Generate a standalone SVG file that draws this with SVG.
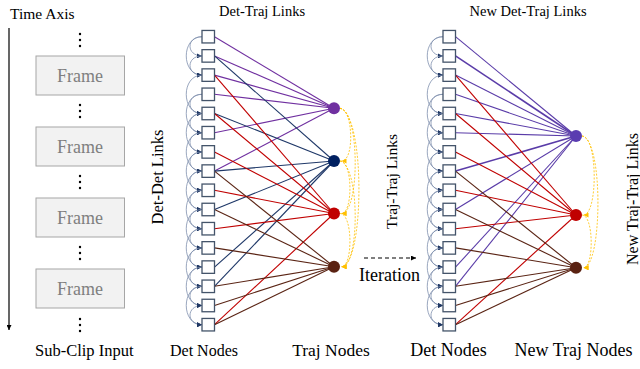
<svg xmlns="http://www.w3.org/2000/svg" xmlns:xlink="http://www.w3.org/1999/xlink" width="640" height="369" viewBox="0 0 640 369">
  <style>
    text { font-family: "Liberation Serif", "Times New Roman", serif; fill: #000; }
    .lbl { font-size: 16px; }
    .top { font-size: 14.5px; text-anchor: middle; }
    .mid { text-anchor: middle; }
    .frame rect { fill: #f2f2f2; stroke: #a6a6a6; stroke-width: 1; }
    .frame text { font-size: 18px; fill: #7f7f7f; text-anchor: middle; }
    .dot { fill: #000; }
    .det { fill: #fff; stroke: #44546a; stroke-width: 1.3; }
    .dd { fill: none; stroke: #7f8fad; stroke-width: 0.8; marker-end: url(#ddArrow); }
    .tt { fill: none; stroke: #ffc000; stroke-width: 0.8; stroke-dasharray: 2 1.5; marker-end: url(#ttArrow); }
    .e { stroke-width: 1.1; fill: none; }
    .pu { stroke: #7030a0; }
    .nv { stroke: #1f3868; }
    .rd { stroke: #c00000; }
    .br { stroke: #5a2414; }
    .pu2 { stroke: #5a3ca8; }
  </style>
  <defs>
    <marker id="ddArrow" viewBox="0 0 10 10" refX="10" refY="5" markerUnits="userSpaceOnUse" markerWidth="6" markerHeight="5" orient="auto">
      <path d="M0,0 L10,5 L0,10 z" fill="#203864"/>
    </marker>
    <marker id="ttArrow" viewBox="0 0 10 10" refX="10" refY="5" markerUnits="userSpaceOnUse" markerWidth="6" markerHeight="5" orient="auto">
      <path d="M0,0 L10,5 L0,10 z" fill="#ffc000"/>
    </marker>
    <marker id="axArrow" viewBox="0 0 10 10" refX="5" refY="10" markerUnits="userSpaceOnUse" markerWidth="5" markerHeight="7" orient="0">
      <path d="M0,0 L5,10 L10,0 z" fill="#000"/>
    </marker>
    <marker id="itArrow" viewBox="0 0 10 10" refX="10" refY="5" markerUnits="userSpaceOnUse" markerWidth="6" markerHeight="5" orient="auto">
      <path d="M0,0 L10,5 L0,10 z" fill="#000"/>
    </marker>
    <!-- det-det arcs: one step and two steps down -->
    <path id="a1" class="dd" d="M0,0 C-16,0 -16,19.2 0,19.2"/>
    <path id="a2" class="dd" d="M0,0 C-21,0 -21,38.4 0,38.4"/>
  </defs>

  <!-- time axis and frames -->
  <g id="time-axis">
    <text class="lbl" x="10" y="18.5" style="font-size:15.5px">Time Axis</text>
    <line x1="9" y1="28" x2="9" y2="330" stroke="#000" stroke-width="1.2" marker-end="url(#axArrow)"/>
  </g>
  <g id="dots">
    <circle class="dot" cx="80" cy="34" r="1.2"/><circle class="dot" cx="80" cy="40" r="1.2"/><circle class="dot" cx="80" cy="46" r="1.2"/>
    <circle class="dot" cx="80" cy="105" r="1.2"/><circle class="dot" cx="80" cy="111" r="1.2"/><circle class="dot" cx="80" cy="117" r="1.2"/>
    <circle class="dot" cx="80" cy="176" r="1.2"/><circle class="dot" cx="80" cy="182" r="1.2"/><circle class="dot" cx="80" cy="188" r="1.2"/>
    <circle class="dot" cx="80" cy="247" r="1.2"/><circle class="dot" cx="80" cy="253" r="1.2"/><circle class="dot" cx="80" cy="259" r="1.2"/>
    <circle class="dot" cx="80" cy="319" r="1.2"/><circle class="dot" cx="80" cy="325" r="1.2"/><circle class="dot" cx="80" cy="331" r="1.2"/>
  </g>
  <g id="frame1" class="frame"><rect x="36" y="56" width="88.5" height="39"/><text x="80" y="81.5">Frame</text></g>
  <g id="frame2" class="frame"><rect x="36" y="127" width="88.5" height="39"/><text x="80" y="152.5">Frame</text></g>
  <g id="frame3" class="frame"><rect x="36" y="198" width="88.5" height="39"/><text x="80" y="223.5">Frame</text></g>
  <g id="frame4" class="frame"><rect x="36" y="269" width="88.5" height="39"/><text x="80" y="294.5">Frame</text></g>
  <text class="lbl" x="35" y="355.5" style="font-size:16.5px">Sub-Clip Input</text>

  <!-- labels -->
  <text class="top" x="262" y="16">Det-Traj Links</text>
  <text class="top" x="528" y="16">New Det-Traj Links</text>
  <text class="lbl mid" transform="translate(162.5,177) rotate(-90)" style="font-size:16.5px">Det-Det Links</text>
  <text class="lbl mid" transform="translate(397,181.5) rotate(-90)" style="font-size:15.5px">Traj-Traj Links</text>
  <text class="lbl mid" transform="translate(638,199) rotate(-90)" style="font-size:16px">New Traj-Traj Links</text>
  <text class="lbl mid" x="204" y="355.5">Det Nodes</text>
  <text class="lbl mid" x="331" y="355.5" style="font-size:17.5px">Traj Nodes</text>
  <text class="lbl mid" x="448.5" y="355.5" style="font-size:18px">Det Nodes</text>
  <text class="lbl mid" x="573.5" y="355.5" style="font-size:18px">New Traj Nodes</text>

  <g id="iteration">
    <line x1="364" y1="258" x2="416" y2="258" stroke="#000" stroke-width="1.2" stroke-dasharray="4 3" marker-end="url(#itArrow)"/>
    <text class="lbl mid" x="389.5" y="281" style="font-size:18px">Iteration</text>
  </g>

  <!-- connectors -->
  <g id="connectors">
    <!-- left graph: det-det links -->
    <g id="left-det-det">
      <use xlink:href="#a1" x="202" y="36.7"/>
      <use xlink:href="#a1" x="202" y="55.9"/>
      <use xlink:href="#a1" x="202" y="94.3"/>
      <use xlink:href="#a1" x="202" y="113.5"/>
      <use xlink:href="#a1" x="202" y="132.7"/>
      <use xlink:href="#a1" x="202" y="151.9"/>
      <use xlink:href="#a1" x="202" y="171.1"/>
      <use xlink:href="#a1" x="202" y="190.3"/>
      <use xlink:href="#a1" x="202" y="209.5"/>
      <use xlink:href="#a1" x="202" y="228.7"/>
      <use xlink:href="#a1" x="202" y="247.9"/>
      <use xlink:href="#a1" x="202" y="267.1"/>
      <use xlink:href="#a1" x="202" y="286.3"/>
      <use xlink:href="#a1" x="202" y="305.5"/>
      <use xlink:href="#a2" x="202" y="36.7"/>
      <use xlink:href="#a2" x="202" y="75.1"/>
      <use xlink:href="#a2" x="202" y="94.3"/>
      <use xlink:href="#a2" x="202" y="113.5"/>
      <use xlink:href="#a2" x="202" y="132.7"/>
      <use xlink:href="#a2" x="202" y="151.9"/>
      <use xlink:href="#a2" x="202" y="171.1"/>
      <use xlink:href="#a2" x="202" y="190.3"/>
      <use xlink:href="#a2" x="202" y="209.5"/>
      <use xlink:href="#a2" x="202" y="228.7"/>
      <use xlink:href="#a2" x="202" y="247.9"/>
      <use xlink:href="#a2" x="202" y="267.1"/>
      <use xlink:href="#a2" x="202" y="286.3"/>
    </g>
    <!-- left graph: det-traj links -->
    <g id="left-det-traj">
      <path class="e pu" d="M214.5,36.7 L334,108.3"/>
      <path class="e pu" d="M214.5,55.9 L334,108.3"/>
      <path class="e pu" d="M214.5,75.1 L334,108.3"/>
      <path class="e pu" d="M214.5,94.3 L334,108.3"/>
      <path class="e pu" d="M214.5,132.7 L334,108.3"/>
      <path class="e pu" d="M214.5,171.1 L334,108.3"/>
      <path class="e nv" d="M214.5,55.9 L334,161"/>
      <path class="e nv" d="M214.5,113.5 L334,161"/>
      <path class="e nv" d="M214.5,171.1 L334,161"/>
      <path class="e nv" d="M214.5,209.5 L334,161"/>
      <path class="e nv" d="M214.5,267.1 L334,161"/>
      <path class="e nv" d="M214.5,286.3 L334,161"/>
      <path class="e rd" d="M214.5,75.1 L334,213.5"/>
      <path class="e rd" d="M214.5,113.5 L334,213.5"/>
      <path class="e rd" d="M214.5,151.9 L334,213.5"/>
      <path class="e rd" d="M214.5,190.3 L334,213.5"/>
      <path class="e rd" d="M214.5,228.7 L334,213.5"/>
      <path class="e rd" d="M214.5,324.7 L334,213.5"/>
      <path class="e br" d="M214.5,171.1 L334,266.7"/>
      <path class="e br" d="M214.5,209.5 L334,266.7"/>
      <path class="e br" d="M214.5,247.9 L334,266.7"/>
      <path class="e br" d="M214.5,286.3 L334,266.7"/>
      <path class="e br" d="M214.5,305.5 L334,266.7"/>
      <path class="e br" d="M214.5,324.7 L334,266.7"/>
    </g>
    <!-- left graph: traj-traj links -->
    <g id="left-traj-traj">
      <path class="tt" d="M340,108.3 C353,108.3 355,161 341.5,161"/>
      <path class="tt" d="M340,108.3 C360,110 360,213.5 341.5,213.5"/>
      <path class="tt" d="M340,108.3 C366,115 364,266.7 341.5,266.7"/>
      <path class="tt" d="M340,161 C353,161 353,213.5 341.5,213.5"/>
      <path class="tt" d="M340,161 C360,165 360,266.7 341.5,266.7"/>
      <path class="tt" d="M340,213.5 C353,213.5 353,266.7 341.5,266.7"/>
    </g>
    <!-- right graph: det-det links -->
    <g id="right-det-det">
      <use xlink:href="#a1" x="443" y="36.7"/>
      <use xlink:href="#a1" x="443" y="55.9"/>
      <use xlink:href="#a1" x="443" y="94.3"/>
      <use xlink:href="#a1" x="443" y="113.5"/>
      <use xlink:href="#a1" x="443" y="132.7"/>
      <use xlink:href="#a1" x="443" y="151.9"/>
      <use xlink:href="#a1" x="443" y="171.1"/>
      <use xlink:href="#a1" x="443" y="190.3"/>
      <use xlink:href="#a1" x="443" y="209.5"/>
      <use xlink:href="#a1" x="443" y="228.7"/>
      <use xlink:href="#a1" x="443" y="247.9"/>
      <use xlink:href="#a1" x="443" y="267.1"/>
      <use xlink:href="#a1" x="443" y="286.3"/>
      <use xlink:href="#a1" x="443" y="305.5"/>
      <use xlink:href="#a2" x="443" y="36.7"/>
      <use xlink:href="#a2" x="443" y="75.1"/>
      <use xlink:href="#a2" x="443" y="94.3"/>
      <use xlink:href="#a2" x="443" y="113.5"/>
      <use xlink:href="#a2" x="443" y="132.7"/>
      <use xlink:href="#a2" x="443" y="151.9"/>
      <use xlink:href="#a2" x="443" y="171.1"/>
      <use xlink:href="#a2" x="443" y="190.3"/>
      <use xlink:href="#a2" x="443" y="209.5"/>
      <use xlink:href="#a2" x="443" y="228.7"/>
      <use xlink:href="#a2" x="443" y="247.9"/>
      <use xlink:href="#a2" x="443" y="267.1"/>
      <use xlink:href="#a2" x="443" y="286.3"/>
    </g>
    <!-- right graph: det-traj links -->
    <g id="right-det-traj">
      <path class="e pu2" d="M455.5,36.7 L576,136"/>
      <path class="e pu2" d="M455.5,55.9 L576,136" style="stroke-width:1.6"/>
      <path class="e pu2" d="M455.5,75.1 L576,136"/>
      <path class="e pu2" d="M455.5,94.3 L576,136"/>
      <path class="e pu2" d="M455.5,113.5 L576,136"/>
      <path class="e pu2" d="M455.5,132.7 L576,136"/>
      <path class="e pu2" d="M455.5,171.1 L576,136" style="stroke-width:1.6"/>
      <path class="e pu2" d="M455.5,209.5 L576,136"/>
      <path class="e pu2" d="M455.5,267.1 L576,136"/>
      <path class="e pu2" d="M455.5,286.3 L576,136"/>
      <path class="e rd" d="M455.5,75.1 L576,215"/>
      <path class="e rd" d="M455.5,113.5 L576,215"/>
      <path class="e rd" d="M455.5,151.9 L576,215"/>
      <path class="e rd" d="M455.5,190.3 L576,215"/>
      <path class="e rd" d="M455.5,228.7 L576,215"/>
      <path class="e rd" d="M455.5,324.7 L576,215"/>
      <path class="e br" d="M455.5,171.1 L576,267.7"/>
      <path class="e br" d="M455.5,209.5 L576,267.7"/>
      <path class="e br" d="M455.5,247.9 L576,267.7"/>
      <path class="e br" d="M455.5,286.3 L576,267.7"/>
      <path class="e br" d="M455.5,305.5 L576,267.7"/>
      <path class="e br" d="M455.5,324.7 L576,267.7"/>
    </g>
    <!-- right graph: traj-traj links -->
    <g id="right-traj-traj">
      <path class="tt" d="M582,136 C598,136 598,215 583.5,215"/>
      <path class="tt" d="M582,136 C604,140 602,267.7 583.5,267.7"/>
      <path class="tt" d="M582,215 C594,215 594,267.7 583.5,267.7"/>
    </g>
  </g>

  <!-- left graph nodes -->
  <g id="det-L0"><rect class="det" x="202" y="30.45" width="12.5" height="12.5"/></g>
  <g id="det-L1"><rect class="det" x="202" y="49.65" width="12.5" height="12.5"/></g>
  <g id="det-L2"><rect class="det" x="202" y="68.85" width="12.5" height="12.5"/></g>
  <g id="det-L3"><rect class="det" x="202" y="88.05" width="12.5" height="12.5"/></g>
  <g id="det-L4"><rect class="det" x="202" y="107.25" width="12.5" height="12.5"/></g>
  <g id="det-L5"><rect class="det" x="202" y="126.45" width="12.5" height="12.5"/></g>
  <g id="det-L6"><rect class="det" x="202" y="145.65" width="12.5" height="12.5"/></g>
  <g id="det-L7"><rect class="det" x="202" y="164.85" width="12.5" height="12.5"/></g>
  <g id="det-L8"><rect class="det" x="202" y="184.05" width="12.5" height="12.5"/></g>
  <g id="det-L9"><rect class="det" x="202" y="203.25" width="12.5" height="12.5"/></g>
  <g id="det-L10"><rect class="det" x="202" y="222.45" width="12.5" height="12.5"/></g>
  <g id="det-L11"><rect class="det" x="202" y="241.65" width="12.5" height="12.5"/></g>
  <g id="det-L12"><rect class="det" x="202" y="260.85" width="12.5" height="12.5"/></g>
  <g id="det-L13"><rect class="det" x="202" y="280.05" width="12.5" height="12.5"/></g>
  <g id="det-L14"><rect class="det" x="202" y="299.25" width="12.5" height="12.5"/></g>
  <g id="det-L15"><rect class="det" x="202" y="318.45" width="12.5" height="12.5"/></g>
  <g id="traj-L-purple"><circle cx="334" cy="108.3" r="6" fill="#7030a0"/></g>
  <g id="traj-L-navy"><circle cx="334" cy="161" r="6" fill="#002060"/></g>
  <g id="traj-L-red"><circle cx="334" cy="213.5" r="6" fill="#c00000"/></g>
  <g id="traj-L-brown"><circle cx="334" cy="266.7" r="6" fill="#5a2212"/></g>

  <!-- right graph nodes -->
  <g id="det-R0"><rect class="det" x="443" y="30.45" width="12.5" height="12.5"/></g>
  <g id="det-R1"><rect class="det" x="443" y="49.65" width="12.5" height="12.5"/></g>
  <g id="det-R2"><rect class="det" x="443" y="68.85" width="12.5" height="12.5"/></g>
  <g id="det-R3"><rect class="det" x="443" y="88.05" width="12.5" height="12.5"/></g>
  <g id="det-R4"><rect class="det" x="443" y="107.25" width="12.5" height="12.5"/></g>
  <g id="det-R5"><rect class="det" x="443" y="126.45" width="12.5" height="12.5"/></g>
  <g id="det-R6"><rect class="det" x="443" y="145.65" width="12.5" height="12.5"/></g>
  <g id="det-R7"><rect class="det" x="443" y="164.85" width="12.5" height="12.5"/></g>
  <g id="det-R8"><rect class="det" x="443" y="184.05" width="12.5" height="12.5"/></g>
  <g id="det-R9"><rect class="det" x="443" y="203.25" width="12.5" height="12.5"/></g>
  <g id="det-R10"><rect class="det" x="443" y="222.45" width="12.5" height="12.5"/></g>
  <g id="det-R11"><rect class="det" x="443" y="241.65" width="12.5" height="12.5"/></g>
  <g id="det-R12"><rect class="det" x="443" y="260.85" width="12.5" height="12.5"/></g>
  <g id="det-R13"><rect class="det" x="443" y="280.05" width="12.5" height="12.5"/></g>
  <g id="det-R14"><rect class="det" x="443" y="299.25" width="12.5" height="12.5"/></g>
  <g id="det-R15"><rect class="det" x="443" y="318.45" width="12.5" height="12.5"/></g>
  <g id="traj-R-purple"><circle cx="576" cy="136" r="6" fill="#5a3cb0"/></g>
  <g id="traj-R-red"><circle cx="576" cy="215" r="6" fill="#c00000"/></g>
  <g id="traj-R-brown"><circle cx="576" cy="267.7" r="6" fill="#5a2212"/></g>
</svg>
